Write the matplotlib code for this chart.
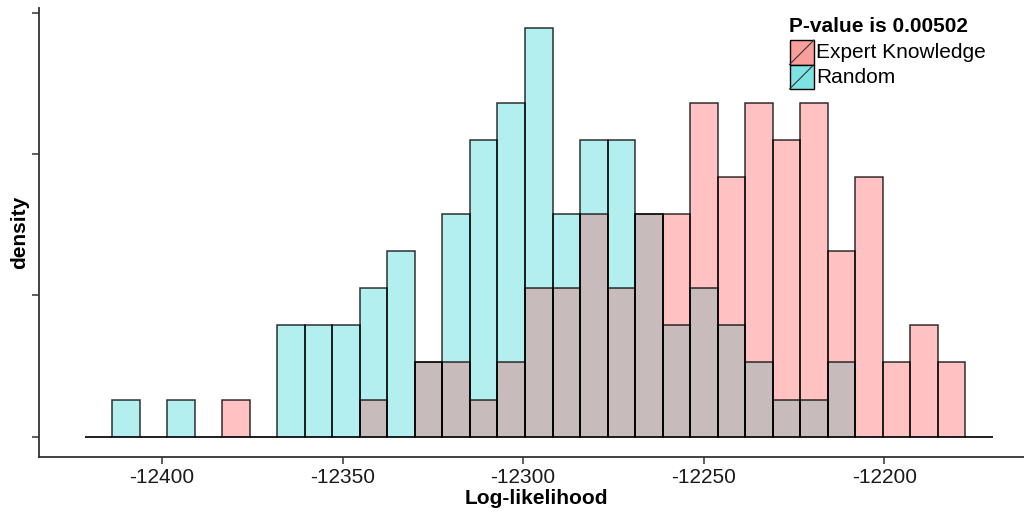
import numpy as np
import matplotlib
matplotlib.use("Agg")
import matplotlib.pyplot as plt
from matplotlib.patches import Rectangle
from matplotlib.lines import Line2D

plt.rcParams['font.family'] = ['Liberation Sans', 'DejaVu Sans']

# histogram bins (Log-likelihood)
bin_start = -12421.4
bin_width = 7.62
random_counts = [0, 1, 0, 1, 0, 0, 0, 3, 3, 3, 4, 5, 2, 6, 8, 9, 11, 6, 8, 8, 6,
                 3, 4, 3, 2, 1, 1, 2, 0, 0, 0, 0, 0]
expert_counts = [0, 0, 0, 0, 0, 1, 0, 0, 0, 0, 1, 0, 2, 2, 1, 2, 4, 4, 6, 4, 6,
                 6, 9, 7, 9, 8, 9, 5, 7, 2, 3, 2, 0]
p_value = "0.00502"
x_ticks = [-12400, -12350, -12300, -12250, -12200]
y_ticks = [0, 0.005, 0.010, 0.015]

random_counts = np.array(random_counts)
expert_counts = np.array(expert_counts)
lefts = bin_start + bin_width * np.arange(len(random_counts))
rnd = random_counts / (random_counts.sum() * bin_width)
exp_ = expert_counts / (expert_counts.sum() * bin_width)
both = np.minimum(rnd, exp_)

c_pink = '#FFC1C1'
c_cyan = '#B3EFEE'
c_both = '#C8BBBB'

W, H = 1024, 512
fig = plt.figure(figsize=(W / 100, H / 100), dpi=100)
left_px, right_px, top_px, bot_px = 39.3, 1038, 8, 457
ax = fig.add_axes([left_px / W, 1 - bot_px / H, (right_px - left_px) / W, (bot_px - top_px) / H])

ax.bar(lefts, rnd, width=bin_width, align='edge', color=c_cyan, linewidth=0)
ax.bar(lefts, exp_, width=bin_width, align='edge', color=c_pink, linewidth=0)
ax.bar(lefts, both, width=bin_width, align='edge', color=c_both, linewidth=0)
for h in (exp_, rnd):
    ax.bar(lefts, h, width=bin_width, align='edge', fill=False,
           edgecolor=(0, 0, 0, 0.8), linewidth=1.1)

ax.set_xlim(-12434, -12157.4)
ax.set_ylim(-0.00072, 0.01516)
ax.set_xticks(x_ticks)
ax.set_xticklabels([str(t) for t in x_ticks], fontsize=15, color='#1a1a1a')
ax.set_yticks(y_ticks)
ax.set_yticklabels([])
ax.tick_params(axis='both', length=5, width=1.1, color='#333333')
ax.tick_params(axis='x', pad=3)
for s in ['top', 'right']:
    ax.spines[s].set_visible(False)
for s in ['left', 'bottom']:
    ax.spines[s].set_color('#333333')
    ax.spines[s].set_linewidth(1.3)

fig.text(536.5 / W, 1 - 498.5 / H, 'Log-likelihood', fontsize=15, fontweight='bold',
         ha='center', va='center')
fig.text(20 / W, 1 - 232 / H, 'density', fontsize=15, fontweight='bold',
         rotation=90, ha='center', va='center')

# legend
def fx(x):
    return x / W

def fy(y):
    return 1 - y / H

fig.text(fx(789), fy(27), 'P-value is ' + p_value, fontsize=15, fontweight='bold',
         ha='left', va='center')
keys = [('Expert Knowledge', '#F99E9B', 40), ('Random', '#7DE3E2', 64.5)]
for lab, col, ytop in keys:
    fig.add_artist(Rectangle((fx(789.5), fy(ytop + 24.5)), 24.5 / W, 24.5 / H,
                             transform=fig.transFigure, facecolor=col,
                             edgecolor='black', linewidth=1))
    fig.add_artist(Line2D([fx(789.5), fx(814)], [fy(ytop + 24.5), fy(ytop)],
                          transform=fig.transFigure, color='#333333', linewidth=0.8))
    fig.text(fx(816), fy(ytop + 13), lab, fontsize=15, ha='left', va='center')

fig.savefig('out.png', dpi=100)
